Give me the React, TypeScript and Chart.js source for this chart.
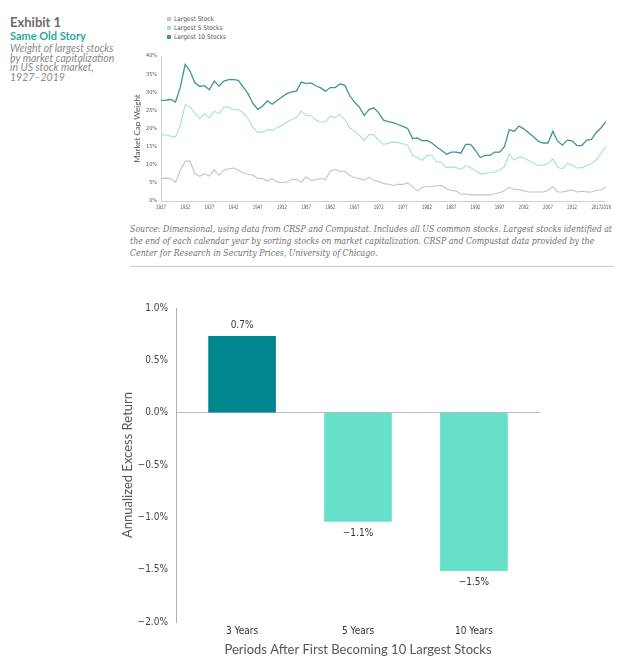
import React, { useEffect, useLayoutEffect, useRef } from "react";
import { Chart, registerables } from "chart.js";

Chart.register(...registerables);

// ---------- Top chart data (1927–2019) ----------
const START_YEAR = 1927;
const END_YEAR = 2019;

const largestStock = [
  6.2, 6.3, 6.2, 5.2, 8.5, 11.0, 11.0, 7.5, 6.8, 7.5,
  6.9, 8.6, 7.1, 8.5, 8.9, 9.1, 8.5, 7.8, 7.4, 7.1,
  6.2, 6.2, 5.5, 6.2, 5.2, 5.1, 5.2, 5.9, 6.0, 5.2,
  6.6, 5.7, 5.9, 6.2, 5.9, 8.2, 8.7, 8.2, 8.2, 7.1,
  6.4, 6.2, 5.7, 6.6, 5.7, 5.4, 4.8, 4.6, 4.3, 4.6,
  4.6, 5.0, 3.9, 2.8, 3.7, 4.0, 4.0, 4.2, 4.3, 3.4,
  2.9, 2.8, 1.8, 2.0, 1.7, 1.7, 1.7, 1.7, 1.7, 2.0,
  2.3, 2.8, 3.7, 3.2, 3.1, 2.8, 2.5, 2.5, 2.5, 2.5,
  2.9, 4.0, 2.5, 2.5, 2.8, 3.1, 2.5, 2.7, 2.5, 2.5,
  2.9, 3.1, 3.9,
];

const largest5 = [
  18.3, 18.2, 17.9, 17.7, 20.9, 26.6, 25.9, 24.3, 22.7, 24.1,
  23.0, 24.7, 24.1, 25.9, 25.9, 25.2, 25.2, 24.3, 22.7, 20.2,
  19.0, 19.0, 19.7, 19.5, 20.2, 20.9, 21.8, 22.4, 23.0, 24.8,
  23.6, 23.6, 22.4, 21.8, 21.8, 23.4, 23.0, 23.9, 22.4, 20.2,
  19.3, 18.1, 16.7, 18.3, 18.3, 16.7, 15.6, 15.9, 16.3, 16.1,
  15.8, 15.4, 12.6, 12.0, 11.2, 12.6, 12.6, 10.8, 10.6, 9.2,
  9.4, 9.2, 8.7, 9.7, 9.2, 8.5, 7.5, 7.7, 7.8, 8.0,
  8.5, 9.5, 13.0, 11.3, 12.1, 12.0, 11.2, 10.5, 9.8, 9.9,
  10.3, 11.6, 9.3, 8.9, 10.4, 9.9, 9.1, 9.2, 9.8, 10.3,
  11.3, 13.2, 15.1,
];

const largest10 = [
  27.7, 27.8, 28.0, 27.3, 31.4, 37.7, 35.8, 32.6, 31.6, 31.8,
  30.7, 33.1, 31.7, 33.1, 33.5, 33.5, 33.3, 31.4, 29.6, 26.9,
  25.3, 26.2, 27.6, 26.7, 27.7, 28.7, 29.6, 30.1, 30.3, 32.8,
  32.4, 32.6, 31.8, 31.2, 30.3, 31.3, 31.3, 32.3, 31.9, 29.1,
  27.3, 25.9, 23.6, 25.2, 25.7, 24.3, 22.3, 21.9, 21.6, 21.1,
  20.6, 20.0, 17.2, 17.4, 16.6, 16.7, 16.0, 14.9, 14.0, 12.9,
  13.5, 13.5, 13.2, 15.6, 15.6, 14.0, 12.0, 12.6, 12.6, 13.5,
  13.5, 15.0, 19.7, 19.2, 20.7, 19.9, 18.8, 17.7, 16.5, 16.0,
  16.0, 19.2, 16.5, 15.4, 16.8, 16.6, 15.3, 15.3, 16.8, 17.0,
  18.9, 20.2, 21.9,
];

const yearTicks = [
  1927, 1932, 1937, 1942, 1947, 1952, 1957, 1962, 1967, 1972,
  1977, 1982, 1987, 1992, 1997, 2002, 2007, 2012, 2017, 2019,
];

const seriesNames = ["Largest Stock", "Largest 5 Stocks", "Largest 10 Stocks"];
const seriesColors = ["#c4c4c4", "#a3e3d6", "#3f9590"];

// ---------- Bottom chart data ----------
const periods = ["3 Years", "5 Years", "10 Years"];
const excessReturn = [0.73, -1.04, -1.51];
const excessLabels = ["0.7%", "\u22121.1%", "\u22121.5%"];
const barColors = ["#00868f", "#66e0c8", "#66e0c8"];

const COND = "'Liberation Sans Narrow', 'DejaVu Sans Condensed', 'Roboto', sans-serif";
const SANS = "Lato, 'Noto Sans', sans-serif";

// Draws the year ticks of the line chart in a narrow (horizontally squeezed) face,
// positioned by the x scale itself.
const narrowYearTicks = {
  id: "narrowYearTicks",
  afterDraw(chart: any) {
    const sx = chart.scales.x;
    const ctx = chart.ctx;
    ctx.save();
    ctx.font = `6px ${COND}`;
    ctx.fillStyle = "#555";
    ctx.textAlign = "center";
    ctx.textBaseline = "top";
    sx.ticks.forEach((t: any) => {
      const x = sx.getPixelForValue(t.value);
      ctx.save();
      ctx.translate(x, sx.top + 3);
      ctx.scale(0.72, 1);
      ctx.fillText(String(t.value), 0, 0);
      ctx.restore();
    });
    ctx.restore();
  },
};

const barLabelPlugin = {
  id: "barLabels",
  afterDatasetsDraw(chart: any) {
    const ctx = chart.ctx;
    const meta = chart.getDatasetMeta(0);
    ctx.save();
    ctx.font = `10px ${COND}`;
    ctx.fillStyle = "#333";
    ctx.textAlign = "center";
    ctx.textBaseline = "middle";
    meta.data.forEach((el: any, i: number) => {
      const v = excessReturn[i];
      const y = v >= 0 ? el.y - 11 : el.y + 12;
      ctx.fillText(excessLabels[i], el.x, y);
    });
    ctx.restore();
  },
};

const sourceLines = [
  "Source: Dimensional, using data from CRSP and Compustat. Includes all US common stocks. Largest stocks identified at",
  "the end of each calendar year by sorting stocks on market capitalization. CRSP and Compustat data provided by the",
  "Center for Research in Security Prices, University of Chicago.",
];
const descLines = [
  "Weight of largest stocks",
  "by market capitalization",
  "in US stock market,",
  "1927\u20132019",
];

export default function App() {
  const lineRef = useRef<HTMLCanvasElement | null>(null);
  const barRef = useRef<HTMLCanvasElement | null>(null);
  const srcRef = useRef<HTMLDivElement | null>(null);

  useLayoutEffect(() => {
    const box = srcRef.current;
    if (!box) return;
    const first = box.firstElementChild as HTMLElement | null;
    if (!first) return;
    const w = first.getBoundingClientRect().width;
    if (w > 0) {
      box.style.transform = `scaleX(${482 / w})`;
    }
  }, []);

  useEffect(() => {
    const toPoints = (arr: number[]) =>
      arr.map((v, i) => ({ x: START_YEAR + i, y: v }));
    const seriesData = [largestStock, largest5, largest10];

    const lineChart = new Chart(lineRef.current as HTMLCanvasElement, {
      type: "line",
      data: {
        datasets: seriesData.map((arr, k) => ({
          label: seriesNames[k],
          data: toPoints(arr),
          borderColor: seriesColors[k],
          borderWidth: k === 2 ? 1.3 : 1.1,
          pointRadius: 0,
          tension: 0,
          fill: false,
        })),
      },
      options: {
        animation: false,
        responsive: false,
        maintainAspectRatio: false,
        layout: { padding: { top: 11, right: 14, left: 0, bottom: 0 } },
        plugins: { legend: { display: false }, tooltip: { enabled: false } },
        scales: {
          x: {
            type: "linear",
            min: START_YEAR,
            max: END_YEAR,
            offset: false,
            afterBuildTicks: (s: any) => {
              s.ticks = yearTicks.map((v) => ({ value: v }));
            },
            afterFit: (s: any) => {
              s.height = 14;
            },
            ticks: { display: false, autoSkip: false },
            grid: { display: false, drawTicks: false },
            border: { color: "#d2d2d2" },
          },
          y: {
            min: 0,
            max: 40,
            afterFit: (s: any) => {
              s.width = 41;
            },
            ticks: {
              stepSize: 5,
              padding: 4,
              color: "#555",
              font: { size: 5.5, family: COND },
              callback: (v: any) => `${v}%`,
            },
            grid: { display: false, drawTicks: false },
            border: { color: "#d2d2d2" },
            title: {
              display: true,
              text: "Market Cap Weight",
              color: "#555",
              font: { size: 8, family: SANS },
              padding: { top: 13, bottom: 0 },
            },
          },
        },
      } as any,
      plugins: [narrowYearTicks],
    });

    const barChart = new Chart(barRef.current as HTMLCanvasElement, {
      type: "bar",
      data: {
        datasets: [
          {
            data: excessReturn.map((v, i) => ({ x: i, y: v })),
            backgroundColor: barColors,
            barThickness: 67,
            borderWidth: 0,
          },
        ],
      },
      options: {
        animation: false,
        responsive: false,
        maintainAspectRatio: false,
        layout: { padding: { top: 18, right: 86, left: 0, bottom: 0 } },
        plugins: { legend: { display: false }, tooltip: { enabled: false } },
        scales: {
          x: {
            type: "linear",
            min: -0.57,
            max: 2.57,
            offset: false,
            afterBuildTicks: (s: any) => {
              s.ticks = periods.map((_, i) => ({ value: i }));
            },
            afterFit: (s: any) => {
              s.height = 45;
            },
            ticks: {
              autoSkip: false,
              maxRotation: 0,
              padding: 3,
              color: "#333",
              font: { size: 10, family: COND },
              callback: (v: any) => periods[v] ?? "",
            },
            grid: { display: false, drawTicks: false, offset: false },
            border: { display: false },
            title: {
              display: true,
              text: "Periods After First Becoming 10 Largest Stocks",
              color: "#555",
              font: { size: 13, family: SANS },
              padding: { top: 0, bottom: 9 },
            },
          },
          y: {
            min: -2,
            max: 1,
            afterFit: (s: any) => {
              s.width = 76;
            },
            ticks: {
              stepSize: 0.5,
              padding: 8,
              color: "#444",
              font: { size: 10, family: COND },
              callback: (v: any) =>
                (v < 0 ? "\u2212" : "") + Math.abs(Number(v)).toFixed(1) + "%",
            },
            grid: {
              drawTicks: false,
              lineWidth: 1,
              color: (c: any) =>
                c.tick && Math.abs(c.tick.value) < 1e-9 ? "#bdbdbd" : "rgba(0,0,0,0)",
            },
            border: { color: "#b0b0b0" },
            title: {
              display: true,
              text: "Annualized Excess Return",
              color: "#555",
              font: { size: 13, family: SANS },
              padding: { top: 20, bottom: 0 },
            },
          },
        },
      } as any,
      plugins: [barLabelPlugin],
    });

    return () => {
      lineChart.destroy();
      barChart.destroy();
    };
  }, []);

  const abs = (l: number, t: number): React.CSSProperties => ({
    position: "absolute",
    left: l,
    top: t,
    whiteSpace: "nowrap",
  });

  return (
    <div
      style={{
        position: "absolute",
        left: 0,
        top: 0,
        width: 626,
        height: 667,
        background: "#fff",
        overflow: "hidden",
      }}
    >
      <div
        style={{
          ...abs(10, 15),
          fontFamily: SANS,
          fontWeight: 700,
          fontSize: 13,
          lineHeight: "14px",
          color: "#6b6b6b",
        }}
      >
        Exhibit 1
      </div>
      <div
        style={{
          ...abs(10, 30),
          fontFamily: SANS,
          fontWeight: 700,
          fontSize: 11,
          lineHeight: "12px",
          color: "#2aa89e",
        }}
      >
        Same Old Story
      </div>
      {descLines.map((t, i) => (
        <div
          key={i}
          style={{
            ...abs(10, 43 + i * 9.5),
            fontFamily: SANS,
            fontStyle: "italic",
            fontSize: 10.5,
            lineHeight: "10px",
            color: "#8a8a8a",
          }}
        >
          {t}
        </div>
      ))}

      {seriesNames.map((name, i) => (
        <div key={name} style={{ ...abs(167, 15 + i * 9), height: 8, display: "flex", alignItems: "center" }}>
          <div style={{ width: 4, height: 4, background: seriesColors[i], marginRight: 3 }} />
          <div style={{ fontFamily: COND, fontSize: 6.5, color: "#555", lineHeight: "8px" }}>{name}</div>
        </div>
      ))}

      <canvas
        ref={lineRef}
        width={500}
        height={170}
        style={{ position: "absolute", left: 120, top: 45, width: 500, height: 170 }}
      />

      <div
        ref={srcRef}
        style={{
          position: "absolute",
          left: 130,
          top: 223,
          transformOrigin: "0 0",
          fontFamily: "'DejaVu Serif Condensed', 'DejaVu Serif', serif",
          fontStyle: "italic",
          fontSize: 8.7,
          lineHeight: "12px",
          color: "#707070",
        }}
      >
        {sourceLines.map((t, i) => (
          <span key={i} style={{ display: "block", whiteSpace: "nowrap", width: "max-content" }}>
            {t}
          </span>
        ))}
      </div>
      <div
        style={{
          position: "absolute",
          left: 130,
          top: 266,
          width: 484,
          height: 1,
          background: "#c8c8c8",
        }}
      />

      <canvas
        ref={barRef}
        width={526}
        height={377}
        style={{ position: "absolute", left: 100, top: 290, width: 526, height: 377 }}
      />
    </div>
  );
}
